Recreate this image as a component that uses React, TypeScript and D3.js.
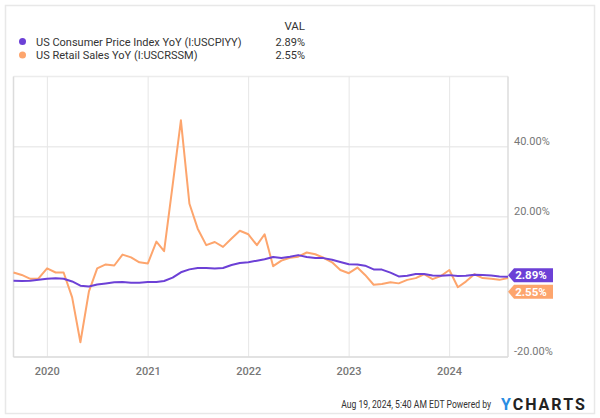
import React from "react";
import * as d3 from "d3";

const months: string[] = (() => {
  const out: string[] = [];
  for (let y = 2019; y <= 2024; y++) {
    for (let m = 1; m <= 12; m++) {
      if (y === 2019 && m < 8) continue;
      if (y === 2024 && m > 7) continue;
      out.push(`${y}-${String(m).padStart(2, "0")}`);
    }
  }
  return out;
})();

const cpiValues: number[] = [
  1.75, 1.71, 1.76, 2.05, 2.29,
  2.49, 2.33, 1.54, 0.33, 0.12, 0.65, 0.99, 1.31, 1.37, 1.18, 1.17, 1.36,
  1.4, 1.68, 2.62, 4.16, 4.99, 5.39, 5.37, 5.25, 5.39, 6.22, 6.81, 7.04,
  7.48, 7.87, 8.54, 8.26, 8.58, 9.06, 8.52, 8.26, 8.2, 7.75, 7.11, 6.45,
  6.41, 6.04, 4.98, 4.93, 4.05, 2.97, 3.18, 3.67, 3.7, 3.24, 3.14, 3.35,
  3.09, 3.15, 3.48, 3.36, 3.27, 2.97, 2.89,
];

const retailValues: number[] = [
  4.1, 3.4, 2.3, 2.4, 5.3,
  4.1, 4.1, -3.0, -15.8, -1.3, 5.3, 6.4, 6.1, 9.2, 8.4, 7.0, 6.7,
  12.9, 10.2, 29.0, 47.5, 23.7, 16.6, 11.9, 12.8, 11.4, 13.8, 16.0, 15.0,
  11.9, 15.0, 5.9, 7.5, 8.3, 8.6, 9.8, 9.3, 8.3, 7.0, 4.8, 3.9,
  5.5, 3.4, 0.6, 0.8, 1.3, 1.0, 2.0, 2.5, 3.6, 2.2, 3.1, 4.8,
  -0.1, 1.5, 3.6, 2.5, 2.3, 2.0, 2.55,
];

const seriesNames = [
  "US Consumer Price Index YoY (I:USCPIYY)",
  "US Retail Sales YoY (I:USCRSSM)",
];
const lastValueLabels = ["2.89%", "2.55%"];
const yTickValues = [-20, 0, 20, 40, 60];
const yTickLabels = ["-20.00%", "", "20.00%", "40.00%", ""];
const xTickYears = [2020, 2021, 2022, 2023, 2024];

const PURPLE = "#6c40d6";
const ORANGE = "#fda56d";

// month-end dates
const dates = months.map((s) => {
  const [y, m] = s.split("-").map(Number);
  return new Date(y, m, 0);
});

export default function App() {
  const left = 13.5;
  const right = 508;
  const top = 76.5;
  const bottom = 357;

  const x = d3
    .scaleTime()
    .domain([dates[0], dates[dates.length - 1]])
    .range([left, right]);
  const y = d3.scaleLinear().domain([-20, 60]).range([bottom, top]);

  const line = d3
    .line<number>()
    .x((_, i) => x(dates[i]))
    .y((d) => y(d));

  const font = "Roboto, 'Noto Sans', sans-serif";

  const tagPath = (yc: number) => {
    const h = 14;
    const x0 = right;
    const x1 = right + 6;
    const x2 = 553;
    return `M${x0},${yc} L${x1},${yc - h / 2} L${x2},${yc - h / 2} L${x2},${yc + h / 2} L${x1},${yc + h / 2} Z`;
  };
  const purpleY = y(cpiValues[cpiValues.length - 1]) - 1.5;
  const orangeY = purpleY + 16.5;

  return (
    <svg
      width={600}
      height={418}
      style={{ position: "absolute", left: 0, top: 0, fontFamily: font }}
    >
      <rect x={0} y={0} width={600} height={418} fill="#ffffff" />
      <rect x={5.5} y={5.5} width={589} height={408} fill="none" stroke="#e8e8e8" strokeWidth={1.5} />

      {/* legend */}
      <text x={305} y={30} textAnchor="end" fontSize={11.5} fill="#333">VAL</text>
      {seriesNames.map((name, i) => (
        <g key={name}>
          <circle cx={22.5} cy={41.5 + i * 13.5} r={3.5} fill={i === 0 ? PURPLE : ORANGE} />
          <text x={36} y={45.5 + i * 13.5} fontSize={11} fill="#333">{name}</text>
          <text x={305} y={45.5 + i * 13.5} textAnchor="end" fontSize={11} fill="#333">
            {lastValueLabels[i]}
          </text>
        </g>
      ))}

      {/* gridlines */}
      {yTickValues.map((v) => (
        <line key={"h" + v} x1={left} x2={right} y1={y(v)} y2={y(v)} stroke="#ececec" strokeWidth={1.5} />
      ))}
      {xTickYears.map((yr) => (
        <line
          key={"v" + yr}
          x1={x(new Date(yr, 0, 1))}
          x2={x(new Date(yr, 0, 1))}
          y1={top}
          y2={bottom}
          stroke="#e6e6e6"
          strokeWidth={1}
        />
      ))}
      {/* plot frame */}
      <line x1={left} x2={left} y1={top} y2={bottom} stroke="#dcdcdc" strokeWidth={1.5} />
      <line x1={right} x2={right} y1={top} y2={bottom} stroke="#dcdcdc" strokeWidth={1.5} />
      <line x1={left} x2={right} y1={bottom} y2={bottom} stroke="#dcdcdc" strokeWidth={1.5} />

      {/* y labels */}
      {yTickValues.map((v, i) =>
        yTickLabels[i] ? (
          <text key={"yl" + v} x={514} y={y(v) - 2} fontSize={11} fill="#777">
            {yTickLabels[i]}
          </text>
        ) : null
      )}
      {/* x labels */}
      {xTickYears.map((yr) => (
        <text
          key={"xl" + yr}
          x={x(new Date(yr, 0, 1))}
          y={375}
          textAnchor="middle"
          fontSize={11}
          fontWeight={500}
          fill="#777"
        >
          {yr}
        </text>
      ))}

      {/* lines */}
      <path d={line(retailValues) || ""} fill="none" stroke={ORANGE} strokeWidth={2} strokeLinejoin="round" />
      <path d={line(cpiValues) || ""} fill="none" stroke={PURPLE} strokeWidth={2} strokeLinejoin="round" />

      {/* value tags */}
      <path d={tagPath(purpleY)} fill={PURPLE} />
      <text x={531} y={purpleY + 4} textAnchor="middle" fontSize={11.5} fontWeight={700} fill="#fff">
        {lastValueLabels[0]}
      </text>
      <path d={tagPath(orangeY)} fill={ORANGE} />
      <text x={531} y={orangeY + 4} textAnchor="middle" fontSize={11.5} fontWeight={700} fill="#fff">
        {lastValueLabels[1]}
      </text>

      {/* footer */}
      <g transform="translate(491,407.5) scale(0.86,1)">
        <text x={0} y={0} textAnchor="end" fontSize={10} fill="#333">
          Aug 19, 2024, 5:40 AM EDT Powered by
        </text>
      </g>
      <text x={501} y={409.5} fontSize={16} fontWeight={700} fill="#222" letterSpacing={2}>
        <tspan fill="#2a8de3">Y</tspan>CHARTS
      </text>
    </svg>
  );
}
